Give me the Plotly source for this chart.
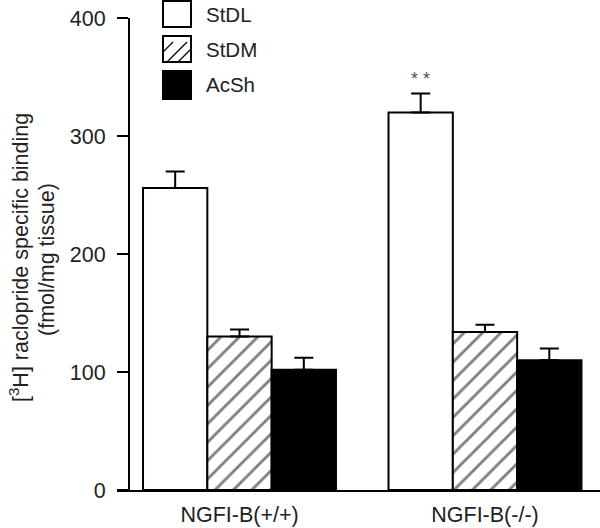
import plotly.graph_objects as go

# ---- data ----
groups = ["NGFI-B(+/+)", "NGFI-B(-/-)"]
series = ["StDL", "StDM", "AcSh"]
stdl = [256, 320]
stdl_err = [14, 16]
stdm = [130, 134]
stdm_err = [6, 6]
acsh = [102, 110]
acsh_err = [10, 10]
y_ticks = [0, 100, 200, 300, 400]

FONT = "Liberation Sans, Arial, Helvetica, sans-serif"

# pixel layout helpers (plot area: x 117..600, y 18..490)
L, R, T, B = 117, 600, 18, 490
def px(x):
    return (x - L) / (R - L)
def py(y):
    return (B - y) / (B - T)

fig = go.Figure()

def add_bar(name, vals, errs, marker):
    fig.add_trace(go.Bar(
        name=name, x=groups, y=vals,
        marker=marker,
        error_y=dict(type="data", symmetric=False, array=errs,
                     arrayminus=[0] * len(errs), color="black",
                     thickness=2, width=9.5),
        showlegend=False, hoverinfo="skip",
    ))

add_bar("StDL", stdl, stdl_err,
        dict(color="white", line=dict(color="black", width=2)))
add_bar("StDM", stdm, stdm_err,
        dict(color="white", line=dict(color="black", width=2),
             pattern=dict(shape="/", fgcolor="black", bgcolor="white",
                          size=13, solidity=0.22)))
add_bar("AcSh", acsh, acsh_err,
        dict(color="black", line=dict(color="black", width=2)))

# ---- custom legend ----
shapes = []
annotations = []
boxes = [(1, 27), (36, 62), (71, 99)]
fills = ["white", "white", "black"]
for (y0, y1), fill, name in zip(boxes, fills, series):
    shapes.append(dict(type="rect", xref="paper", yref="paper",
                       x0=px(163), x1=px(191), y0=py(y1), y1=py(y0),
                       fillcolor=fill, line=dict(color="black", width=2)))
    annotations.append(dict(text=name, xref="paper", yref="paper",
                            x=px(204), y=py((y0 + y1) / 2),
                            xanchor="left", yanchor="middle", showarrow=False,
                            font=dict(size=20.5, color="#222", family=FONT)))
# hatch lines for StDM legend box
for (ax, ay, bx, by) in [(163, 52, 173, 42), (167, 62, 187, 42), (178, 62, 191, 49)]:
    shapes.append(dict(type="line", xref="paper", yref="paper",
                       x0=px(ax), y0=py(ay), x1=px(bx), y1=py(by),
                       line=dict(color="black", width=1.3)))

# y-axis title (two lines)
annotations.append(dict(text="[<sup>3</sup>H] raclopride specific binding",
                        xref="paper", yref="paper", x=px(19), y=py(258),
                        textangle=-90, showarrow=False,
                        xanchor="center", yanchor="middle",
                        font=dict(size=21.5, color="#222", family=FONT)))
annotations.append(dict(text="(fmol/mg tissue)",
                        xref="paper", yref="paper", x=px(47), y=py(260),
                        textangle=-90, showarrow=False,
                        xanchor="center", yanchor="middle",
                        font=dict(size=21.5, color="#222", family=FONT)))

# significance stars over StDL of NGFI-B(-/-)
annotations.append(dict(text="* *", x=1 - 0.262, y=stdl[1] + stdl_err[1],
                        xref="x", yref="y", yshift=15,
                        showarrow=False, xanchor="center", yanchor="middle",
                        font=dict(size=18, color="#555", family=FONT)))

fig.update_layout(
    width=600, height=528,
    margin=dict(l=L, r=600 - R, t=T, b=528 - B),
    paper_bgcolor="white", plot_bgcolor="white",
    barmode="group", bargap=0.214, bargroupgap=0,
    shapes=shapes, annotations=annotations,
    font=dict(family=FONT, size=20, color="#222"),
    xaxis=dict(range=[-0.499, 1.4685], showline=True, linecolor="black",
               linewidth=2, ticks="", showgrid=False, zeroline=False,
               tickfont=dict(size=21.5, color="#222"), ticklabelstandoff=4),
    yaxis=dict(range=[0, 400], tickvals=y_ticks, anchor="free",
               position=px(129), showline=True, linecolor="black",
               linewidth=2, ticks="outside", ticklen=11, tickwidth=2,
               tickcolor="black", showgrid=False, zeroline=False,
               tickfont=dict(size=21.5, color="#222"), ticklabelstandoff=7),
)

fig.write_html("out.html",
               config={"displayModeBar": False},
               post_script="document.body.style.margin='0';"
                           "document.body.style.overflow='hidden';")
